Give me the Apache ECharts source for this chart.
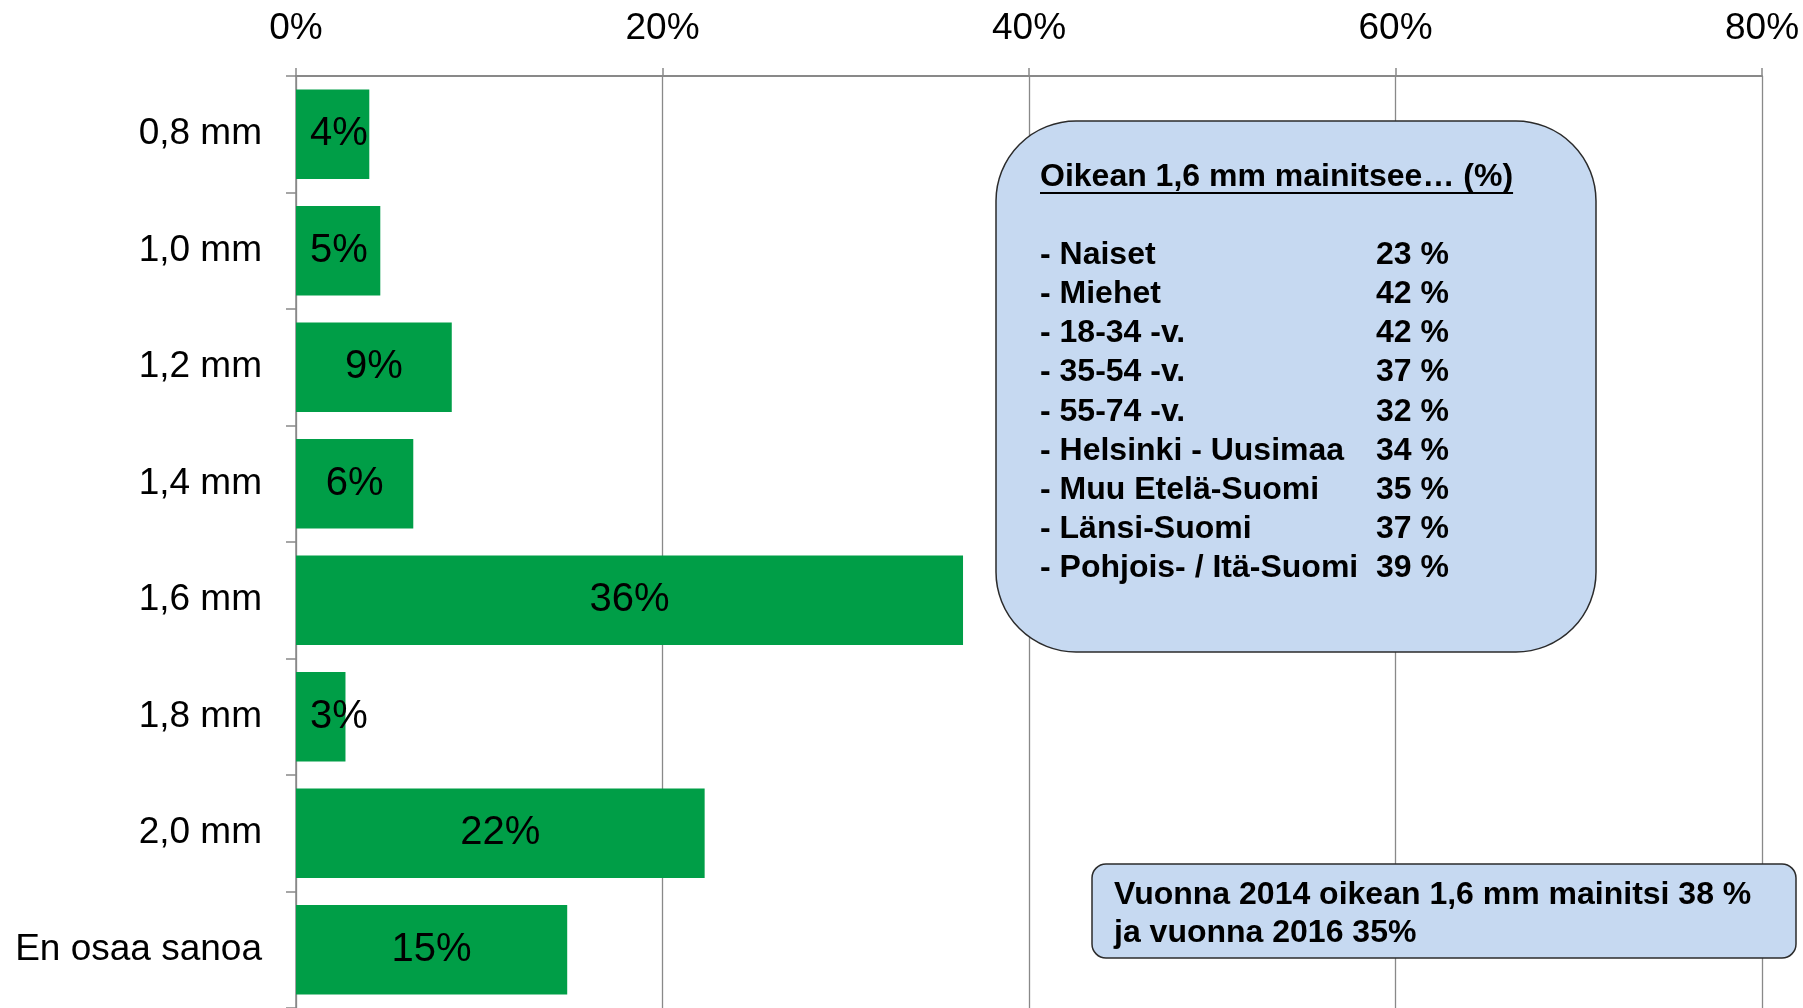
<!DOCTYPE html>
<html>
<head>
<meta charset="utf-8">
<script src="https://cdn.jsdelivr.net/npm/echarts@6/dist/echarts.min.js"></script>
<style>
  html, body { margin: 0; padding: 0; background: #fff; }
  #chart { width: 1803px; height: 1008px; }
</style>
</head>
<body>
<div id="chart"></div>
<script>
// 数据
const categories = ['0,8 mm', '1,0 mm', '1,2 mm', '1,4 mm', '1,6 mm', '1,8 mm', '2,0 mm', 'En osaa sanoa'];
const shares = [4.0, 4.6, 8.5, 6.4, 36.4, 2.7, 22.3, 14.8];
const axisTicks = [0, 20, 40, 60, 80];

const infoTitle = 'Oikean 1,6 mm mainitsee\u2026 (%)';
const infoGroups = ['- Naiset', '- Miehet', '- 18-34 -v.', '- 35-54 -v.', '- 55-74 -v.',
    '- Helsinki - Uusimaa', '- Muu Etelä-Suomi', '- Länsi-Suomi', '- Pohjois- / Itä-Suomi'];
const infoValues = [23, 42, 42, 37, 32, 34, 35, 37, 39];
const noteLines = ['Vuonna 2014 oikean 1,6 mm mainitsi 38 %', 'ja vuonna 2016 35%'];

const FONT = '"Liberation Sans", Arial, sans-serif';
const GRID_COLOR = '#898989';

const myChart = echarts.init(document.getElementById('chart'));

// 测量标题宽度（用于下划线）
function textWidth(text, font) {
    const ctx = document.createElement('canvas').getContext('2d');
    ctx.font = font;
    return ctx.measureText(text).width;
}

// 柱子数据：窄柱的标签靠左
const barData = shares.map(v => ({
    value: v,
    label: v < 5 ? { position: 'insideLeft', distance: 14 } : { position: 'inside' }
}));

// 信息框
const graphics = [];
graphics.push({
    type: 'rect',
    shape: { x: 996, y: 121, width: 600, height: 531, r: 80 },
    style: { fill: '#C6D9F1', stroke: '#2b2b2b', lineWidth: 1.5 },
    z: 100
});
const titleFont = 'bold 32px ' + FONT;
graphics.push({
    type: 'text',
    style: { text: infoTitle, x: 1040, y: 177, font: titleFont, fill: '#000', verticalAlign: 'middle' },
    z: 101
});
graphics.push({
    type: 'line',
    shape: { x1: 1040, y1: 193, x2: 1040 + textWidth(infoTitle, titleFont), y2: 193 },
    style: { stroke: '#000', lineWidth: 2 },
    z: 101
});
infoGroups.forEach((name, i) => {
    const y = 255 + i * 39.2;
    graphics.push({
        type: 'text',
        style: { text: name, x: 1040, y: y, font: titleFont, fill: '#000', verticalAlign: 'middle' },
        z: 101
    });
    graphics.push({
        type: 'text',
        style: { text: infoValues[i] + ' %', x: 1376, y: y, font: titleFont, fill: '#000', verticalAlign: 'middle' },
        z: 101
    });
});

// 年份说明框
graphics.push({
    type: 'rect',
    shape: { x: 1092, y: 864, width: 704, height: 94, r: 14 },
    style: { fill: '#C6D9F1', stroke: '#2b2b2b', lineWidth: 1.5 },
    z: 100
});
noteLines.forEach((line, i) => {
    graphics.push({
        type: 'text',
        style: { text: line, x: 1114, y: 895 + i * 38, font: titleFont, fill: '#000', verticalAlign: 'middle' },
        z: 101
    });
});

const option = {
    animation: false,
    backgroundColor: '#fff',
    grid: { left: 296, top: 76, width: 1466, height: 946 },
    xAxis: {
        type: 'value',
        position: 'top',
        min: axisTicks[0],
        max: axisTicks[axisTicks.length - 1],
        interval: 20,
        axisLine: { show: true, lineStyle: { color: GRID_COLOR, width: 2 } },
        axisTick: { show: true, length: 8, lineStyle: { color: GRID_COLOR, width: 1.5 } },
        axisLabel: {
            formatter: '{value}%',
            fontSize: 37,
            color: '#000',
            fontFamily: FONT,
            margin: 29
        },
        splitLine: { show: true, lineStyle: { color: GRID_COLOR, width: 1.3 } }
    },
    yAxis: {
        type: 'category',
        inverse: true,
        data: categories,
        axisLine: { show: true, lineStyle: { color: GRID_COLOR, width: 1.5 } },
        axisTick: { show: true, length: 10, alignWithLabel: false, lineStyle: { color: GRID_COLOR, width: 1.5 } },
        axisLabel: { fontSize: 37, color: '#000', fontFamily: FONT, margin: 34 }
    },
    series: [
        {
            type: 'bar',
            data: barData,
            barCategoryGap: '23%',
            itemStyle: { color: '#009E47' },
            label: {
                show: true,
                fontSize: 40,
                color: '#000',
                fontFamily: FONT,
                formatter: p => Math.round(p.value) + '%'
            }
        }
    ],
    graphic: graphics
};

myChart.setOption(option);
</script>
</body>
</html>
